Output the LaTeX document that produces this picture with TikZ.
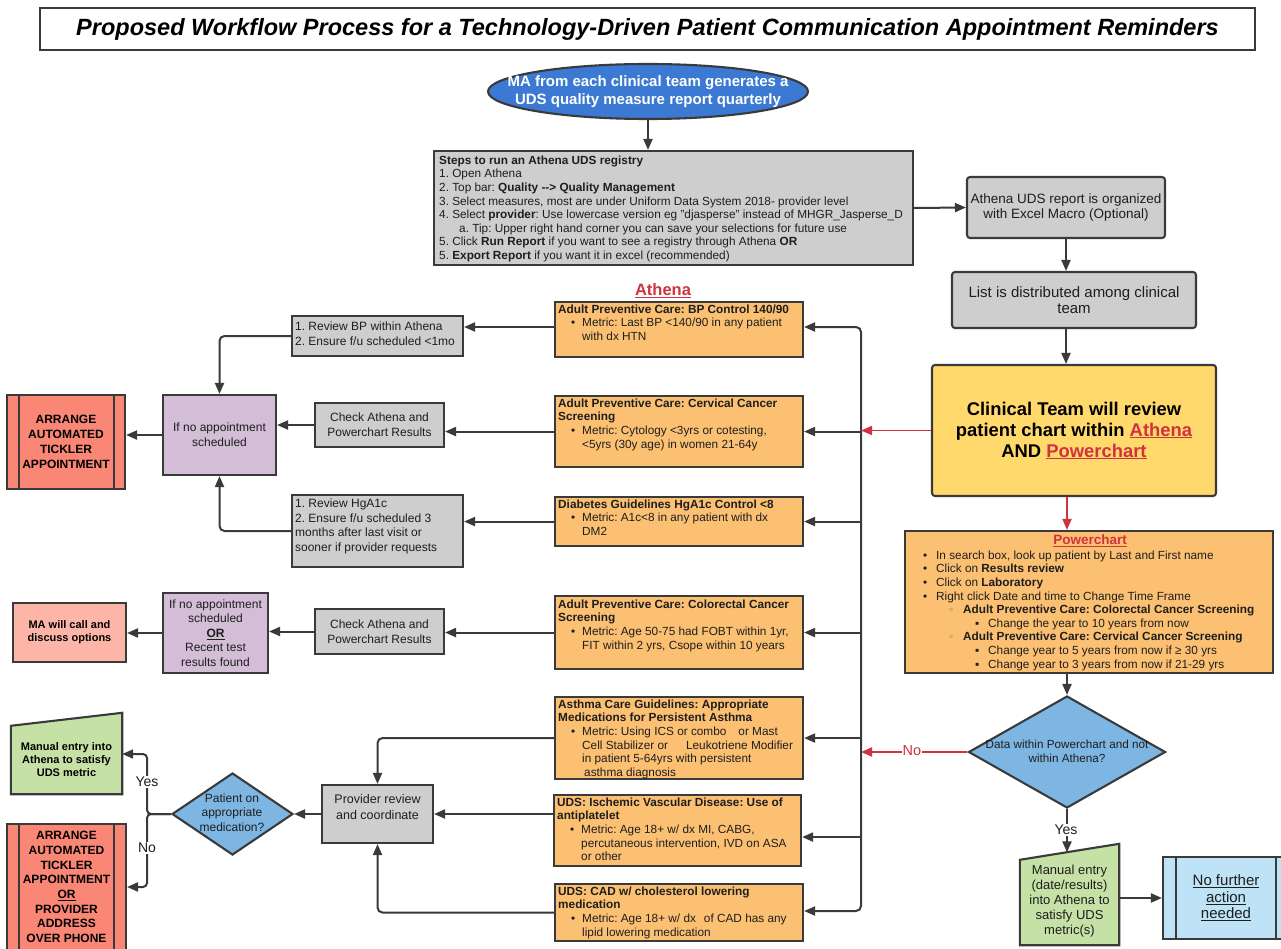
\documentclass[tikz,border=0pt]{standalone}
\usepackage{fontspec}
\setmainfont{Liberation Sans}
\usetikzlibrary{arrows.meta,shapes.geometric,backgrounds}
\definecolor{edge}{HTML}{3A3A3A}
\definecolor{txt}{HTML}{1E1E1E}
\definecolor{grayfill}{HTML}{CECECE}
\definecolor{orangefill}{HTML}{FCC073}
\definecolor{yellowfill}{HTML}{FFD96B}
\definecolor{purplefill}{HTML}{D3BDD7}
\definecolor{redfill}{HTML}{FA8776}
\definecolor{salmonfill}{HTML}{FDB5A8}
\definecolor{greenfill}{HTML}{C6E1A6}
\definecolor{bluefill}{HTML}{7EB6E3}
\definecolor{ovalfill}{HTML}{3B79D2}
\definecolor{lightbluefill}{HTML}{BEE3F6}
\definecolor{redline}{HTML}{CF3340}
\newcommand\obul{\hspace*{13pt}\makebox[11pt][l]{•}}
\newcommand\oind{\hspace*{24pt}}
\newcommand\pba{\makebox[13pt][l]{•}}
\newcommand\pbb{\hspace*{26pt}\makebox[14pt][l]{\textcolor{gray}{◦}}}
\newcommand\pbc{\hspace*{52pt}\makebox[13pt][l]{▪}}
\frenchspacing
\tikzset{
  bord/.style={draw=edge, line width=2.1pt},
  box/.style={bord, rectangle, inner sep=0pt, align=center, text=txt},
  tx/.style={inner sep=0pt, text=txt, align=left, anchor=north west},
  conn/.style={draw=edge, line width=2pt},
  arr/.style={conn, -{Triangle[length=11pt,width=9pt]}},
  rarr/.style={draw=redline, line width=1.8pt, -{Triangle[length=11pt,width=9pt]}},
  sm/.style={font=\fontsize{11.8}{13.6}\selectfont},
  md/.style={font=\fontsize{12}{15}\selectfont},
  bd/.style={font=\fontsize{12}{14.8}\selectfont\bfseries},
  lbl/.style={fill=white, inner sep=1pt, font=\fontsize{14}{16}\selectfont, text=txt},
  obox/.style={bord, fill=orangefill, inner sep=0pt, anchor=north west, minimum width=248},
}
\begin{document}
\frenchspacing
\begin{tikzpicture}[x=1pt,y=-1pt]
\useasboundingbox (0,0) rectangle (1281,949);
\begin{scope}[on background layer]
\fill[white] (0,0) rectangle (1281,949);
\end{scope}

% title
\node[box, draw=edge, line width=1.8pt, fill=white, minimum width=1215, minimum height=42,
  font=\fontsize{23.5}{28}\selectfont\bfseries\itshape, text=black] (title) at (647.5,29)
  {Proposed Workflow Process for a Technology-Driven Patient Communication Appointment Reminders};

% start oval
\node[ellipse, bord, fill=ovalfill, minimum width=320, minimum height=55, inner sep=0pt] (oval) at (648,91.5) {};
\node[inner sep=0pt, align=center, text=white, font=\fontsize{15}{18}\selectfont\bfseries] (ovalT) at (oval.center)
  {MA from each clinical team generates a\\UDS quality measure report quarterly};

% steps box
\node[box, fill=grayfill, minimum width=479, minimum height=114] (steps) at (673.5,208) {};
\node[tx, sm] (stepsT) at (439,155.6) {%
{\bfseries Steps to run an Athena UDS registry}\\
1. Open Athena\\
2. Top bar: \textbf{Quality -\kern0pt-\kern0pt> Quality Management}\\
3. Select measures, most are under Uniform Data System 2018- provider level\\
4. Select \textbf{provider}: Use lowercase version eg "djasperse" instead of MHGR\_Jasperse\_D\\
\hspace*{20pt}a. Tip: Upper right hand corner you can save your selections for future use\\
5. Click \textbf{Run Report} if you want to see a registry through Athena \textbf{OR}\\
5. \textbf{Export Report} if you want it in excel (recommended)};

% right column
\node[box, rounded corners=3pt, fill=grayfill, minimum width=198, minimum height=61,
  font=\fontsize{13.5}{15}\selectfont] (uds) at (1066,207.5)
  {Athena UDS report is organized\\with Excel Macro (Optional)};
\node[box, rounded corners=3pt, fill=grayfill, minimum width=244, minimum height=56,
  font=\fontsize{15}{16.5}\selectfont] (list) at (1074,300)
  {List is distributed among clinical\\team};
\node[box, rounded corners=3pt, fill=yellowfill, minimum width=284, minimum height=131,
  font=\fontsize{18.4}{21}\selectfont\bfseries, text=black] (clin) at (1074,430.5)
  {Clinical Team will review\\patient chart within \textcolor{redline}{\underline{Athena}}\\AND \textcolor{redline}{\underline{Powerchart}}};

% powerchart box
\node[box, fill=orangefill, minimum width=368, minimum height=142] (pc) at (1089,602) {};
\node[inner sep=0pt, text=redline, font=\fontsize{13.5}{16}\selectfont\bfseries] (pcTitle) at (1090,541) {\underline{Powerchart}};
\node[tx, sm] (pcT) at (923,550.6) {%
\pba In search box, look up patient by Last and First name\\
\pba Click on \textbf{Results review}\\
\pba Click on \textbf{Laboratory}\\
\pba Right click Date and time to Change Time Frame\\
\pbb\textbf{Adult Preventive Care: Colorectal Cancer Screening}\\
\pbc Change the year to 10 years from now\\
\pbb\textbf{Adult Preventive Care: Cervical Cancer Screening}\\
\pbc Change year to 5 years from now if ≥ 30 yrs\\
\pbc Change year to 3 years from now if 21-29 yrs};

% decision right
\node[diamond, bord, fill=bluefill, minimum width=197, minimum height=112, inner sep=0pt] (ddia) at (1067,752) {};
\node[inner sep=0pt, align=center, text=txt, font=\fontsize{11.7}{14}\selectfont] (ddiaT) at (1067,751)
  {Data within Powerchart and not\\within Athena?};

\node[inner sep=0pt, align=center, text=txt, minimum width=99, minimum height=88,
  font=\fontsize{13}{15}\selectfont] (g2) at (1069.5,901)
  {Manual entry\\(date/results)\\into Athena to\\satisfy UDS\\metric(s)};
\coordinate (g2top) at (1067,852.4);
\node[box, fill=lightbluefill, minimum width=126, minimum height=82,
  font=\fontsize{15}{16.5}\selectfont] (nf) at (1226,898)
  {\underline{No further}\\\underline{action}\\\underline{needed}};
\draw[bord] ([xshift=14pt]nf.north west) -- ([xshift=14pt]nf.south west);
\draw[bord] ([xshift=-14pt]nf.north east) -- ([xshift=-14pt]nf.south east);

% Athena heading and orange boxes
\node[inner sep=0pt, text=redline, font=\fontsize{16.5}{18}\selectfont\bfseries] (athT) at (663,291) {\underline{Athena}};

\node[obox, minimum height=55] (bp) at (554,301) {};
\node[tx, sm] (bpT) at (558,304.6) {%
\textbf{Adult Preventive Care: BP Control 140/90}\\
\obul Metric: Last BP <140/90 in any patient\\
\oind with dx HTN};

\node[obox, minimum height=71] (cerv) at (554,395) {};
\node[tx, sm] (cervT) at (558,398.6) {%
\textbf{Adult Preventive Care: Cervical Cancer}\\
\textbf{Screening}\\
\obul Metric: Cytology <3yrs or cotesting,\\
\oind <5yrs (30y age) in women 21-64y};

\node[obox, minimum height=49] (diab) at (554,496) {};
\node[tx, sm] (diabT) at (558,499.6) {%
\textbf{Diabetes Guidelines HgA1c Control <8}\\
\obul Metric: A1c<8 in any patient with dx\\
\oind DM2};

\node[obox, minimum height=73] (colo) at (554,595) {};
\node[tx, sm] (coloT) at (558,599.6) {%
\textbf{Adult Preventive Care: Colorectal Cancer}\\
\textbf{Screening}\\
\obul Metric: Age 50-75 had FOBT within 1yr,\\
\oind FIT within 2 yrs, Csope within 10 years};

\node[obox, minimum height=82] (asth) at (554,696) {};
\node[tx, sm] (asthT) at (558,699.6) {%
\textbf{Asthma Care Guidelines: Appropriate}\\
\textbf{Medications for Persistent Asthma}\\
\obul Metric: Using ICS or combo\hspace{12pt}or Mast\\
\oind Cell Stabilizer or\hspace{18pt}Leukotriene Modifier\\
\oind in patient 5-64yrs with persistent\\
\hspace*{26pt}asthma diagnosis};

\node[obox, minimum width=247, minimum height=71] (isch) at (553,794) {};
\node[tx, sm] (ischT) at (557,797.6) {%
\textbf{UDS: Ischemic Vascular Disease: Use of}\\
\textbf{antiplatelet}\\
\obul Metric: Age 18+ w/ dx MI, CABG,\\
\oind percutaneous intervention, IVD on ASA\\
\oind or other};

\node[obox, minimum height=57] (cad) at (554,883) {};
\node[tx, sm] (cadT) at (558,886.6) {%
\textbf{UDS: CAD w/ cholesterol lowering}\\
\textbf{medication}\\
\obul Metric: Age 18+ w/ dx\hspace{8pt}of CAD has any\\
\oind lipid lowering medication};

% left column
\node[box, fill=grayfill, minimum width=171, minimum height=40] (revbp) at (377.5,336) {};
\node[inner sep=0pt, anchor=west, align=left, text=txt, md] (revbpT) at ([xshift=4pt,yshift=2pt]revbp.west)
  {1. Review BP within Athena\\2. Ensure f/u scheduled <1mo};
\node[box, fill=grayfill, minimum width=129, minimum height=44, md] (chk1) at (379.5,425)
  {Check Athena and\\Powerchart Results};
\node[box, fill=purplefill, minimum width=113, minimum height=80, md] (pur1) at (219.5,435)
  {If no appointment\\scheduled};
\node[box, fill=redfill, minimum width=118, minimum height=94, bd, text=black] (red1) at (66,442)
  {ARRANGE\\AUTOMATED\\TICKLER\\APPOINTMENT};
\draw[bord] ([xshift=13pt]red1.north west) -- ([xshift=13pt]red1.south west);
\draw[bord] ([xshift=-12pt]red1.north east) -- ([xshift=-12pt]red1.south east);

\node[box, fill=grayfill, minimum width=171, minimum height=72] (hg) at (377.5,531) {};
\node[inner sep=0pt, anchor=west, align=left, text=txt, font=\fontsize{12}{14.5}\selectfont] (hgT) at ([xshift=4pt,yshift=4.5pt]hg.west)
  {1. Review HgA1c\\2. Ensure f/u scheduled 3\\months after last visit or\\sooner if provider requests};

\node[box, fill=grayfill, minimum width=129, minimum height=45, md] (chk2) at (379.5,631.5)
  {Check Athena and\\Powerchart Results};
\node[box, fill=purplefill, minimum width=105, minimum height=80, font=\fontsize{12}{14.5}\selectfont] (pur2) at (215.5,633)
  {If no appointment\\scheduled\\\textbf{\underline{OR}}\\Recent test\\results found};
\node[box, fill=salmonfill, minimum width=113, minimum height=59, font=\fontsize{11}{13.2}\selectfont\bfseries, text=black] (ma) at (69.5,632.5)
  {MA will call and\\discuss options};

\node[box, fill=grayfill, minimum width=111, minimum height=58] (prov) at (377.5,814) {};
\node[inner sep=0pt, align=center, text=txt, font=\fontsize{12.5}{16}\selectfont] (provT) at (377.5,807)
  {Provider review\\and coordinate};

\node[diamond, bord, fill=bluefill, minimum width=121, minimum height=82, inner sep=0pt] (pdia) at (232.5,814) {};
\node[inner sep=0pt, align=center, text=txt, font=\fontsize{12}{14.5}\selectfont] (pdiaT) at (232,812.5)
  {Patient on\\appropriate\\medication?};

\node[inner sep=0pt, align=center, minimum width=111, minimum height=68,
  font=\fontsize{11}{13}\selectfont\bfseries, text=black] (g1) at (66.5,760)
  {Manual entry into\\Athena to satisfy\\UDS metric};
\node[box, fill=redfill, minimum width=119, minimum height=126, text=black,
  font=\fontsize{12}{14.7}\selectfont\bfseries] (red2) at (66.5,887)
  {ARRANGE\\AUTOMATED\\TICKLER\\APPOINTMENT\\\underline{OR}\\PROVIDER\\ADDRESS\\OVER PHONE};
\draw[bord] ([xshift=13pt]red2.north west) -- ([xshift=13pt]red2.south west);
\draw[bord] ([xshift=-13pt]red2.north east) -- ([xshift=-13pt]red2.south east);

% trapezoids on background
\begin{scope}[on background layer]
\draw[bord, fill=greenfill] (g1.south west) -- (g1.north west) -- ([yshift=13pt]g1.north east) -- (g1.south east) -- cycle;
\draw[bord, fill=greenfill] (g2.south west) -- ([yshift=-3pt]g2.north west) -- ([yshift=13pt]g2.north east) -- (g2.south east) -- cycle;
\end{scope}

% connectors: top flow
\draw[arr] (oval.south) -- (oval.south |- steps.north);
\draw[arr] (steps.east) -- (uds.west);
\draw[arr] (uds.south) -- (uds.south |- list.north);
\draw[arr] (uds.south |- list.south) -- (uds.south |- clin.north);
\draw[rarr] (clin.south -| ddia.north) -- (pc.north -| ddia.north);
\draw[arr] (pc.south -| ddia.north) -- (ddia.north);
\draw[arr] (ddia.south) -- (g2top);
\draw[arr] (g2.east |- nf.west) -- (nf.west);

% bus
\coordinate (busT) at (861,327);
\coordinate (busB) at (861,911);
\draw[conn, rounded corners=5pt, {Triangle[length=11pt,width=9pt]}-{Triangle[length=11pt,width=9pt]}]
  (bp.east |- busT) -- (busT) -- (busB) -- (cad.east |- busB);
\draw[arr] (cerv.east -| busT) -- (cerv.east);
\draw[arr] (diab.east -| busT) -- (diab.east);
\draw[arr] (colo.east -| busT) -- (colo.east);
\draw[arr] (asth.east -| busT) -- (asth.east);
\draw[arr] ([yshift=-6.5pt]isch.east -| busT) -- ([yshift=-6.5pt]isch.east);
\draw[rarr] (clin.west) -- (clin.west -| busT);
\draw[rarr] (ddia.west) -- (ddia.west -| busT);

% left connectors
\draw[arr] (bp.west |- busT) -- (revbp.east |- busT);
\draw[arr, rounded corners=5pt] (revbp.west) -| (pur1.north);
\draw[arr] (cerv.west) -- (cerv.west -| chk1.east);
\draw[arr] (chk1.west) -- (chk1.west -| pur1.east);
\draw[arr] (pur1.west) -- (pur1.west -| red1.east);
\draw[arr] (diab.west) -- (diab.west -| hg.east);
\draw[arr, rounded corners=5pt] (hg.west) -| (pur1.south);
\draw[arr] (colo.west) -- (colo.west -| chk2.east);
\draw[arr] (chk2.west) -- (chk2.west -| pur2.east);
\draw[arr] (pur2.west) -- (pur2.west -| ma.east);
\draw[arr, rounded corners=5pt] (asth.west) -| (prov.north);
\draw[arr, rounded corners=5pt] (cad.west) -| (prov.south);
\draw[arr] (isch.west |- prov.east) -- (prov.east);
\draw[arr] (prov.west) -- (pdia.east);
\coordinate (pbr) at (147,814);
\draw[arr, rounded corners=4pt] (pdia.west) -- (pbr) |- ([yshift=6pt]g1.east);
\draw[arr, rounded corners=4pt] (pdia.west) -- (pbr) |- (red2.east);

% labels
\node[lbl] (yesL) at (147,782) {Yes};
\node[lbl] (noL) at (147,848) {No};
\node[lbl] (yesR) at (1066,830) {Yes};
\node[lbl, text=redline, font=\fontsize{14.5}{16}\selectfont] (noR) at (912,751) {No};
\end{tikzpicture}
\end{document}
